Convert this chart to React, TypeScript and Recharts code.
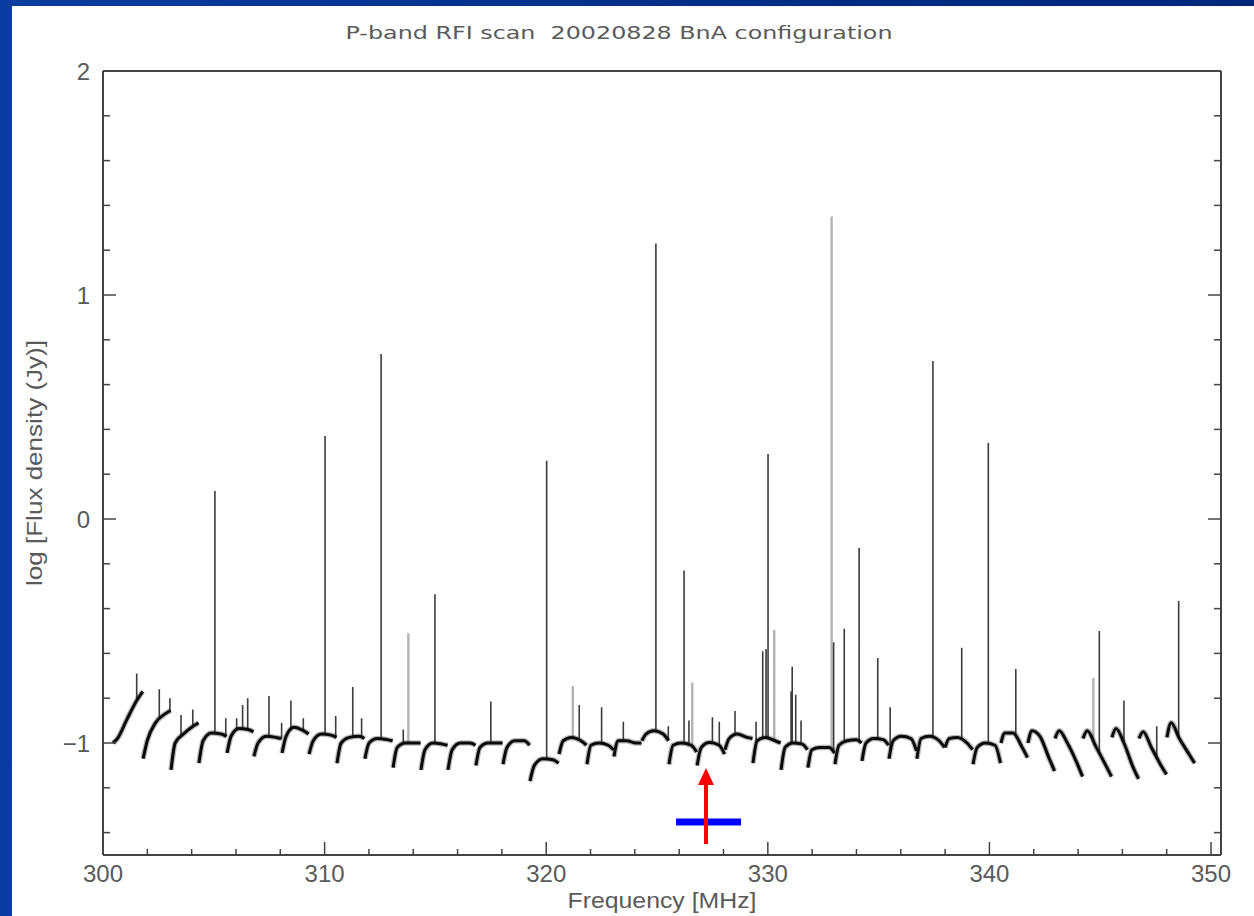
import React from 'react';
import { ComposedChart, Line, XAxis, YAxis, Scatter, ReferenceLine, Customized } from 'recharts';

// ---- data ----
const titleText = 'P-band RFI scan\u00a0\u00a020020828 BnA configuration';
const xLabelText = 'Frequency [MHz]';
const yLabelText = 'log [Flux density (Jy)]';

const xTicks = [300, 302, 304, 306, 308, 310, 312, 314, 316, 318, 320, 322, 324, 326, 328, 330, 332, 334, 336, 338, 340, 342, 344, 346, 348, 350];
const yTicks = [-1.4, -1.2, -1, -0.8, -0.6, -0.4, -0.2, 0, 0.2, 0.4, 0.6, 0.8, 1, 1.2, 1.4, 1.6, 1.8, 2];

// sub-band edges (MHz)
const segStart = [300.45, 301.81, 303.07, 304.33, 305.6, 306.81, 308.08, 309.3, 310.56, 311.82, 313.09, 314.35, 315.57, 316.83, 318.05, 319.27, 320.58, 321.84, 323.06, 324.32, 325.54, 326.81, 328.07, 329.33, 330.6, 331.81, 333.03, 334.25, 335.47, 336.73, 338.0, 339.26, 340.52, 341.74, 342.96, 344.22, 345.53, 346.75, 348.01, 349.28];
// baseline level of each sub-band at its start, 15%, 45%, 80% and end
const segV0 = [-1.0, -1.07, -1.12, -1.09, -1.045, -1.06, -1.045, -1.05, -1.09, -1.07, -1.11, -1.12, -1.12, -1.1, -1.095, -1.17, -1.05, -1.095, -1.06, -0.99, -1.095, -1.1, -1.03, -1.09, -1.12, -1.11, -1.095, -1.08, -1.07, -1.07, -1.02, -1.095, -1.0, -1.0, -0.98, -0.98, -0.975, -0.98, -0.975];
const segV1 = [-0.98, -0.99, -1.0, -0.99, -0.97, -1.0, -0.97, -0.99, -1.0, -1.0, -1.02, -1.03, -1.03, -1.02, -1.02, -1.1, -0.99, -1.01, -0.99, -0.96, -1.01, -1.02, -0.98, -0.99, -1.02, -1.03, -1.01, -1.0, -0.99, -0.98, -0.98, -1.02, -0.955, -0.945, -0.945, -0.945, -0.935, -0.95, -0.91];
const segV2 = [-0.9, -0.91, -0.96, -0.955, -0.935, -0.97, -0.93, -0.96, -0.975, -0.98, -1.0, -1.0, -1.0, -1.0, -0.99, -1.07, -0.975, -1.0, -0.99, -0.945, -1.0, -0.998, -0.96, -0.975, -1.0, -1.02, -0.99, -0.98, -0.97, -0.97, -0.975, -1.0, -0.955, -0.97, -1.0, -1.015, -1.0, -1.02, -0.98];
const segV3 = [-0.81, -0.87, -0.925, -0.96, -0.94, -0.975, -0.945, -0.965, -0.97, -0.985, -1.0, -1.005, -1.0, -1.0, -0.99, -1.075, -0.99, -1.01, -1.0, -0.96, -1.01, -1.01, -0.975, -0.99, -1.005, -1.02, -0.985, -0.985, -0.98, -0.99, -1.0, -1.01, -1.02, -1.07, -1.09, -1.1, -1.11, -1.1, -1.05];
const segV4 = [-0.77, -0.855, -0.91, -0.97, -0.95, -0.98, -0.96, -0.975, -0.98, -0.99, -1.0, -1.01, -1.01, -1.0, -1.01, -1.09, -1.01, -1.03, -1.0, -0.99, -1.04, -1.05, -0.98, -1.0, -1.03, -1.045, -1.0, -1.01, -1.035, -1.02, -1.03, -1.09, -1.065, -1.125, -1.15, -1.15, -1.16, -1.14, -1.09];
const profileFrac = [0, 0.15, 0.45, 0.8, 1];

// RFI spikes: dark traces
const darkSpikeFreq = [301.52, 302.54, 303.02, 303.52, 304.05, 305.05, 305.54, 306.03, 306.3, 306.53, 307.49, 308.06, 308.48, 309.04, 310.02, 310.5, 311.27, 311.67, 312.55, 313.55, 314.98, 317.5, 320.02, 321.49, 322.5, 323.48, 324.95, 325.51, 326.22, 326.44, 327.5, 327.81, 328.52, 329.47, 329.77, 329.92, 330.01, 331.05, 331.1, 331.26, 331.5, 332.97, 333.45, 334.12, 334.96, 335.52, 337.45, 338.75, 339.95, 341.19, 344.96, 346.07, 347.55, 348.54];
const darkSpikePeak = [-0.69, -0.76, -0.8, -0.875, -0.85, 0.125, -0.89, -0.89, -0.83, -0.8, -0.79, -0.91, -0.81, -0.89, 0.37, -0.88, -0.75, -0.89, 0.737, -0.94, -0.336, -0.815, 0.26, -0.83, -0.84, -0.905, 1.23, -0.925, -0.23, -0.9, -0.885, -0.905, -0.857, -0.905, -0.59, -0.58, 0.29, -0.77, -0.66, -0.785, -0.9, -0.55, -0.49, -0.13, -0.62, -0.84, 0.705, -0.575, 0.34, -0.67, -0.5, -0.81, -0.925, -0.366];
// RFI spikes: light grey traces
const greySpikeFreq = [313.78, 321.2, 326.59, 330.29, 332.88, 344.69];
const greySpikePeak = [-0.51, -0.745, -0.73, -0.495, 1.35, -0.71];

// annotation marks
const arrowFreq = [327.21];
const arrowFrom = [-1.451];
const arrowTip = [-1.112];
const barFreq = [325.86, 328.79];
const barLevel = [-1.353];

// ---- build series tables ----
const SEG_GAP = 0.02;
type Pt = { f: number; v: number | null };

const baseline: Pt[] = [];
for (let i = 0; i < segV0.length; i++) {
  const s = segStart[i];
  const e = segStart[i + 1] - SEG_GAP;
  const vals = [segV0[i], segV1[i], segV2[i], segV3[i], segV4[i]];
  profileFrac.forEach((fr, k) => baseline.push({ f: s + fr * (e - s), v: vals[k] }));
  baseline.push({ f: e + SEG_GAP / 2, v: null });
}

function baseAt(f: number): number {
  for (let i = 0; i < segV0.length; i++) {
    const s = segStart[i];
    const e = segStart[i + 1] - SEG_GAP;
    if (f >= s && f < segStart[i + 1]) {
      const t = Math.min(1, Math.max(0, (f - s) / (e - s)));
      const vals = [segV0[i], segV1[i], segV2[i], segV3[i], segV4[i]];
      for (let k = 0; k < profileFrac.length - 1; k++) {
        if (t >= profileFrac[k] && t <= profileFrac[k + 1]) {
          const u = (t - profileFrac[k]) / (profileFrac[k + 1] - profileFrac[k]);
          return vals[k] + u * (vals[k + 1] - vals[k]);
        }
      }
      return vals[vals.length - 1];
    }
  }
  return -1;
}

function spikeTable(freqs: number[], peaks: number[]): Pt[] {
  const out: Pt[] = [];
  freqs.forEach((f, i) => {
    out.push({ f, v: baseAt(f) });
    out.push({ f, v: peaks[i] });
    out.push({ f, v: null });
  });
  return out;
}

const darkSpikes = spikeTable(darkSpikeFreq, darkSpikePeak);
const greySpikes = spikeTable(greySpikeFreq, greySpikePeak);
const arrowHeadData = [{ f: arrowFreq[0], v: arrowTip[0] }];

// ---- styling ----
const FONT = '"Liberation Sans", Arial, sans-serif';
const TITLE_FONT = '"DejaVu Sans", sans-serif';
const AXIS_COL = '#444';
const TEXT_COL = '#5a5a5a';

const isMajor = (v: number, step: number) => Math.abs(v / step - Math.round(v / step)) < 1e-6;
const fmtY = (v: number) => (v < 0 ? '\u2212' + Math.abs(v) : String(v));

const BottomTick = (p: any) => {
  const { x, y, payload } = p;
  const major = isMajor(payload.value, 10);
  return (
    <g>
      <line x1={x} x2={x} y1={y} y2={y - (major ? 13 : 6)} stroke={AXIS_COL} strokeWidth={1.5} />
      {major && (
        <text x={x} y={y + 27} textAnchor="middle" fontSize={24} fill={TEXT_COL} fontFamily={FONT}>
          {payload.value}
        </text>
      )}
    </g>
  );
};
const TopTick = (p: any) => {
  const { x, y, payload } = p;
  const major = isMajor(payload.value, 10);
  return <line x1={x} x2={x} y1={y} y2={y + (major ? 13 : 6)} stroke={AXIS_COL} strokeWidth={1.5} />;
};
const LeftTick = (p: any) => {
  const { x, y, payload } = p;
  const major = isMajor(payload.value, 1);
  return (
    <g>
      <line x1={x} x2={x + (major ? 13 : 7)} y1={y} y2={y} stroke={AXIS_COL} strokeWidth={1.5} />
      {major && (
        <text x={x - 13} y={y + 9} textAnchor="end" fontSize={24} fill={TEXT_COL} fontFamily={FONT}>
          {fmtY(payload.value)}
        </text>
      )}
    </g>
  );
};
const RightTick = (p: any) => {
  const { x, y, payload } = p;
  const major = isMajor(payload.value, 1);
  return <line x1={x} x2={x - (major ? 13 : 7)} y1={y} y2={y} stroke={AXIS_COL} strokeWidth={1.5} />;
};

const ArrowHead = (p: any) => {
  const { cx, cy } = p;
  return <polygon points={`${cx},${cy} ${cx - 8},${cy + 17} ${cx + 8},${cy + 17}`} fill="#ff0000" />;
};

const Texts = () => (
  <g>
    <text x={619} y={38.5} textAnchor="middle" fontSize={18} fill={TEXT_COL} fontFamily={TITLE_FONT} textLength={547} lengthAdjust="spacingAndGlyphs">
      {titleText}
    </text>
    <text x={662} y={908} textAnchor="middle" fontSize={22} fill={TEXT_COL} fontFamily={FONT} textLength={189} lengthAdjust="spacingAndGlyphs">
      {xLabelText}
    </text>
    <text
      x={0}
      y={0}
      transform="translate(42,463) rotate(-90)"
      textAnchor="middle"
      fontSize={22}
      fill={TEXT_COL}
      fontFamily={FONT}
      textLength={246}
      lengthAdjust="spacingAndGlyphs"
    >
      {yLabelText}
    </text>
  </g>
);

export default function App() {
  return (
    <div
      style={{
        position: 'absolute',
        left: 0,
        top: 0,
        width: 1254,
        height: 916,
        background: 'linear-gradient(to right, #0b3c9f 0%, #002d85 60%, #00277a 100%)',
        overflow: 'hidden',
      }}
    >
      <div style={{ position: 'absolute', left: 12, top: 6, right: 0, bottom: 0, background: '#ffffff' }} />
      <div style={{ position: 'absolute', left: 0, top: 0 }}>
        <ComposedChart width={1254} height={916} margin={{ top: 61, right: 23, bottom: 21, left: 43 }}>
          <XAxis
            xAxisId={0}
            dataKey="f"
            type="number"
            domain={[300, 350.45]}
            allowDataOverflow
            ticks={xTicks}
            interval={0}
            height={40}
            tickSize={0}
            tickMargin={0}
            tick={<BottomTick />}
            axisLine={{ stroke: AXIS_COL, strokeWidth: 2 }}
            tickLine={false}
          />
          <XAxis
            xAxisId="top"
            orientation="top"
            type="number"
            domain={[300, 350.45]}
            allowDataOverflow
            ticks={xTicks}
            interval={0}
            height={10}
            tickSize={0}
            tickMargin={0}
            tick={<TopTick />}
            axisLine={{ stroke: AXIS_COL, strokeWidth: 2 }}
            tickLine={false}
          />
          <YAxis
            yAxisId={0}
            type="number"
            domain={[-1.5, 2]}
            allowDataOverflow
            ticks={yTicks}
            interval={0}
            width={60}
            tickSize={0}
            tickMargin={0}
            tick={<LeftTick />}
            axisLine={{ stroke: AXIS_COL, strokeWidth: 2 }}
            tickLine={false}
          />
          <YAxis
            yAxisId="right"
            orientation="right"
            type="number"
            domain={[-1.5, 2]}
            allowDataOverflow
            ticks={yTicks}
            interval={0}
            width={10}
            tickSize={0}
            tickMargin={0}
            tick={<RightTick />}
            axisLine={{ stroke: AXIS_COL, strokeWidth: 2 }}
            tickLine={false}
          />
          <Line
            data={greySpikes}
            dataKey="v"
            type="linear"
            stroke="#b4b4b4"
            strokeWidth={2.4}
            dot={false}
            activeDot={false}
            connectNulls={false}
            isAnimationActive={false}
          />
          <Line
            data={darkSpikes}
            dataKey="v"
            type="linear"
            stroke="#3c3c3c"
            strokeWidth={1.6}
            dot={false}
            activeDot={false}
            connectNulls={false}
            isAnimationActive={false}
          />
          <Line
            data={baseline}
            dataKey="v"
            type="monotone"
            stroke="#333333"
            strokeOpacity={0.35}
            strokeWidth={5.5}
            dot={false}
            activeDot={false}
            connectNulls={false}
            isAnimationActive={false}
          />
          <Line
            data={baseline}
            dataKey="v"
            type="monotone"
            stroke="#0a0a0a"
            strokeWidth={3}
            dot={false}
            activeDot={false}
            connectNulls={false}
            isAnimationActive={false}
          />
          <ReferenceLine
            segment={[
              { x: barFreq[0], y: barLevel[0] },
              { x: barFreq[1], y: barLevel[0] },
            ]}
            stroke="#0000ff"
            strokeWidth={7}
          />
          <ReferenceLine
            segment={[
              { x: arrowFreq[0], y: arrowFrom[0] },
              { x: arrowFreq[0], y: arrowTip[0] - 0.06 },
            ]}
            stroke="#ff0000"
            strokeWidth={4}
          />
          <Scatter data={arrowHeadData} dataKey="v" shape={<ArrowHead />} isAnimationActive={false} />
          <Customized component={<Texts />} />
        </ComposedChart>
      </div>
    </div>
  );
}
